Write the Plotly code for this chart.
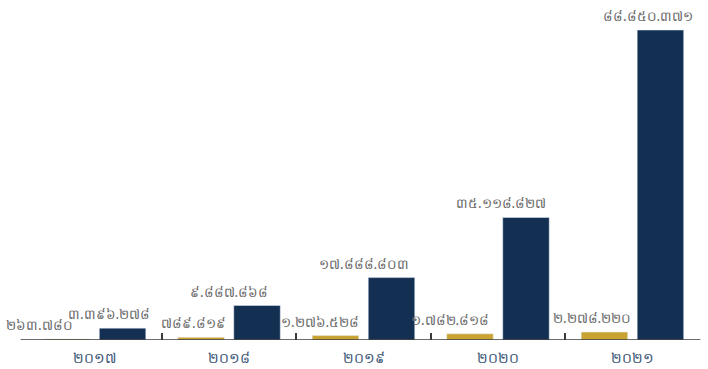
import plotly.graph_objects as go

# Yearly values for the two series
years = ["២០១៧", "២០១៨", "២០១៩", "២០២០", "២០២១"]
gold_values = [263780, 789819, 1276528, 1782818, 2278220]
navy_values = [3396278, 9887868, 17888803, 35118827, 88850371]

GOLD = "#C9A332"
NAVY = "#132F52"
LABEL_GREY = "#6A6A6A"
YEAR_COLOR = "#3A5575"
FONT = "Noto Sans, DejaVu Sans, sans-serif"

KHMER_DIGITS = str.maketrans("0123456789", "០១២៣៤៥៦៧៨៩")


def khmer_number(v):
    s = f"{v:,}".replace(",", ".")
    return s.translate(KHMER_DIGITS)


fig = go.Figure()
fig.add_trace(go.Bar(x=years, y=gold_values, marker_color=GOLD, name="gold"))
fig.add_trace(go.Bar(x=years, y=navy_values, marker_color=NAVY, name="navy"))

# value labels, right-aligned relative to each category centre (pixels)
gold_shift = [-20, -1, -3, -7, 1]
navy_shift = [57, 41, 47, 50, 63]
for i, yr in enumerate(years):
    fig.add_annotation(x=yr, y=gold_values[i], text=khmer_number(gold_values[i]),
                       xanchor="right", yanchor="bottom", xshift=gold_shift[i], yshift=3,
                       showarrow=False, font=dict(size=13.5, color=LABEL_GREY, family=FONT))
    fig.add_annotation(x=yr, y=navy_values[i], text=khmer_number(navy_values[i]),
                       xanchor="right", yanchor="bottom", xshift=navy_shift[i], yshift=3,
                       showarrow=False, font=dict(size=13.5, color=LABEL_GREY, family=FONT))

# baseline
fig.add_shape(type="line", xref="paper", yref="y", x0=-0.014, x1=1.005, y0=0, y1=0,
              line=dict(color="#3A3A3A", width=1.6))

fig.update_layout(
    width=708, height=369,
    margin=dict(l=30, r=11, t=10, b=29, autoexpand=False),
    paper_bgcolor="white", plot_bgcolor="white",
    barmode="group", bargap=0.167, bargroupgap=0.17,
    showlegend=False,
    font=dict(family=FONT),
    xaxis=dict(
        type="category", range=[-0.48, 4.48], automargin=False,
        showline=False, showgrid=False, zeroline=False,
        ticks="inside", tickson="boundaries", ticklen=7, tickwidth=1.5,
        tickcolor="#3A3A3A", ticklabelstandoff=8,
        tickfont=dict(size=14, color=YEAR_COLOR, family=FONT),
    ),
    yaxis=dict(visible=False, range=[0, 94.6e6]),
)

fig.write_html("out.html")
